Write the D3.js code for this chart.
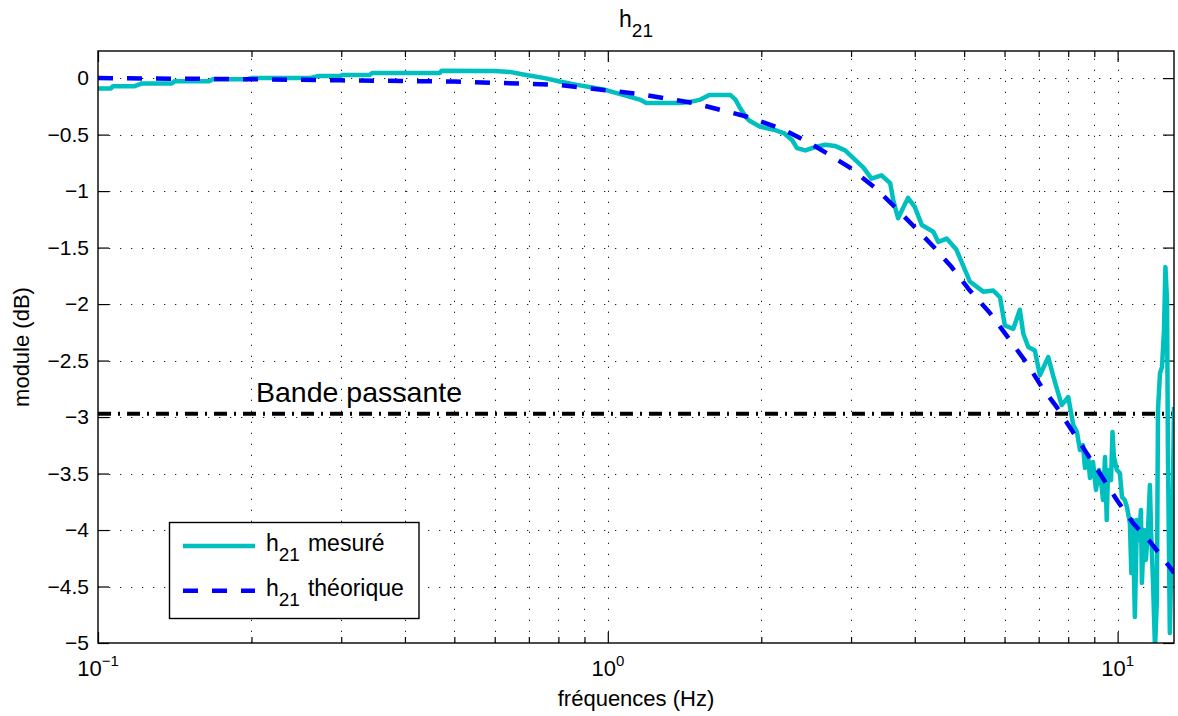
<!DOCTYPE html>
<html><head><meta charset="utf-8">
<script src="https://cdn.jsdelivr.net/npm/d3@7"></script>
<style>
html,body{margin:0;padding:0;background:#fff;}
svg{display:block;font-family:"Liberation Sans",Arial,Helvetica,sans-serif;}
</style></head>
<body>
<svg id="chart" width="1178" height="716"></svg>
<script>
// ---- data ----
const measFreq = [0.100,0.106,0.107,0.118,0.122,0.1395,0.1414,0.1655,0.168,0.1957,0.200,0.260,0.270,0.298,0.302,0.341,0.345,0.468,0.472,0.600,0.642,0.687,0.752,0.805,0.870,0.950,1.000,1.155,1.190,1.330,1.390,1.450,1.520,1.580,1.740,1.780,1.820,1.870,1.900,1.990,2.130,2.220,2.300,2.350,2.440,2.550,2.670,2.790,2.920,3.170,3.290,3.440,3.580,3.630,3.710,3.880,4.000,4.130,4.350,4.450,4.620,4.830,5.020,5.130,5.450,5.700,5.880,6.010,6.240,6.430,6.530,6.680,6.880,7.040,7.310,7.480,7.767,8.002,8.185,8.323,8.437,8.552,8.630,8.748,8.827,8.948,9.070,9.194,9.278,9.362,9.447,9.520,9.576,9.706,9.772,9.834,9.968,10.10,10.20,10.33,10.43,10.57,10.64,10.71,10.81,10.91,11.01,11.11,11.16,11.26,11.36,11.47,11.57,11.63,11.73,11.84,11.94,12.00,12.11,12.22,12.33,12.41,12.50,12.55,12.66,12.75,12.83,12.90];
const measDb = [-0.091,-0.091,-0.071,-0.071,-0.047,-0.047,-0.027,-0.027,-0.009,-0.009,0.0,0.0,0.018,0.018,0.028,0.028,0.045,0.045,0.065,0.062,0.055,0.03,0.0,-0.03,-0.06,-0.09,-0.11,-0.19,-0.22,-0.22,-0.22,-0.21,-0.19,-0.15,-0.15,-0.19,-0.27,-0.35,-0.38,-0.43,-0.46,-0.49,-0.55,-0.62,-0.64,-0.61,-0.59,-0.60,-0.64,-0.79,-0.89,-0.86,-0.93,-1.08,-1.24,-1.06,-1.14,-1.30,-1.36,-1.45,-1.42,-1.52,-1.70,-1.80,-1.89,-1.88,-1.94,-2.19,-2.22,-2.05,-2.26,-2.38,-2.41,-2.63,-2.47,-2.64,-2.894,-2.823,-3.071,-3.133,-3.292,-3.248,-3.451,-3.336,-3.540,-3.398,-3.646,-3.469,-3.558,-3.735,-3.354,-3.912,-3.469,-3.558,-3.133,-3.354,-3.469,-3.496,-3.708,-3.735,-3.796,-3.938,-4.381,-3.912,-4.770,-3.912,-4.088,-3.823,-4.469,-4.000,-4.265,-4.000,-3.602,-4.000,-4.442,-5.05,-4.619,-2.938,-2.611,-2.558,-2.230,-1.673,-1.965,-3.292,-4.912,-4.265,-3.735,-2.912];
const theoFreq = [0.10,0.20,0.30,0.50,0.80,0.92,1.00,1.15,1.30,1.47,1.66,1.87,2.20,2.50,2.70,2.98,3.34,3.60,4.00,4.35,4.72,5.13,5.62,6.15,6.63,7.09,7.59,9.23,9.95,10.73,11.66,12.57,12.90];
const theoDb = [0.0,-0.01,-0.02,-0.03,-0.06,-0.09,-0.11,-0.14,-0.18,-0.22,-0.28,-0.34,-0.45,-0.58,-0.67,-0.79,-0.97,-1.11,-1.32,-1.49,-1.67,-1.88,-2.08,-2.32,-2.52,-2.73,-2.91,-3.50,-3.73,-3.94,-4.12,-4.31,-4.38];
const bandLevel = -2.97;
const yTicks = [0,-0.5,-1,-1.5,-2,-2.5,-3,-3.5,-4,-4.5,-5];
const xMajor = [0.1,1,10];
const xMajorExp = ["\u22121","0","1"];
const xMinor = [0.2,0.3,0.4,0.5,0.6,0.7,0.8,0.9,2,3,4,5,6,7,8,9];
const xDomain = [0.1,12.9];
const yDomain = [-5,0.24];

// ---- layout ----
const L=98, R=1174, T=51, B=643;
const svg = d3.select("#chart");
const x = d3.scaleLog().domain(xDomain).range([L,R]);
const y = d3.scaleLinear().domain(yDomain).range([B,T]);

svg.append("defs").append("clipPath").attr("id","clip")
  .append("rect").attr("x",L).attr("y",T).attr("width",R-L).attr("height",B-T);

// grid
const grid = svg.append("g").attr("stroke","#222").attr("stroke-width",1).attr("stroke-dasharray","1.3,9.7");
grid.selectAll(".gx").data(xMajor.concat(xMinor).filter(v=>v>xDomain[0]&&v<xDomain[1])).enter().append("line")
  .attr("x1",d=>Math.round(x(d))+0.5).attr("x2",d=>Math.round(x(d))+0.5).attr("y1",B).attr("y2",T);
grid.selectAll(".gy").data(yTicks.filter(v=>v>yDomain[0])).enter().append("line")
  .attr("y1",d=>Math.round(y(d))+0.5).attr("y2",d=>Math.round(y(d))+0.5).attr("x1",L).attr("x2",R);

// axes via d3
const fmt = d=> (d<0?"\u2212":"")+Math.abs(d);
const yAxisL = d3.axisLeft(y).tickValues(yTicks).tickSize(-11).tickPadding(9).tickFormat(fmt);
const yAxisR = d3.axisRight(y).tickValues(yTicks).tickSize(-11).tickFormat("");
const xAxisB = d3.axisBottom(x).tickValues(xMajor).tickSize(-11).tickFormat("");
const xAxisT = d3.axisTop(x).tickValues(xMajor).tickSize(-11).tickFormat("");
const xMinB = d3.axisBottom(x).tickValues(xMinor).tickSize(-6).tickFormat("");
const xMinT = d3.axisTop(x).tickValues(xMinor).tickSize(-6).tickFormat("");

function styleAxis(g){ g.select(".domain").remove(); g.selectAll("line").attr("stroke","#000").attr("stroke-width",1.2); g.selectAll("text").attr("font-size",21).attr("fill","#000").attr("font-family","Liberation Sans, Arial, sans-serif"); }
svg.append("g").attr("transform",`translate(${L},0)`).call(yAxisL).call(styleAxis);
svg.append("g").attr("transform",`translate(${R},0)`).call(yAxisR).call(styleAxis);
svg.append("g").attr("transform",`translate(0,${B})`).call(xAxisB).call(styleAxis);
svg.append("g").attr("transform",`translate(0,${T})`).call(xAxisT).call(styleAxis);
svg.append("g").attr("transform",`translate(0,${B})`).call(xMinB).call(styleAxis);
svg.append("g").attr("transform",`translate(0,${T})`).call(xMinT).call(styleAxis);

// x tick labels with exponents
const xl = svg.append("g").attr("font-size",22).attr("fill","#000");
xMajor.forEach((v,i)=>{
  const t = xl.append("text").attr("x",x(v)).attr("y",676).attr("text-anchor","middle");
  t.append("tspan").text("10");
  t.append("tspan").attr("font-size",15).attr("dy",-10).text(xMajorExp[i]);
});

// plot lines
const plot = svg.append("g").attr("clip-path","url(#clip)");
plot.append("line").attr("x1",L).attr("x2",R).attr("y1",y(bandLevel)).attr("y2",y(bandLevel))
  .attr("stroke","#000").attr("stroke-width",4).attr("stroke-dasharray","13,7,2,7");
const line = d3.line().x(d=>x(d[0])).y(d=>y(d[1]));
plot.append("path").datum(d3.zip(measFreq,measDb)).attr("d",line)
  .attr("fill","none").attr("stroke","#00BFBF").attr("stroke-width",4.5).attr("stroke-linejoin","round");
plot.append("path").datum(d3.zip(theoFreq,theoDb)).attr("d",line)
  .attr("fill","none").attr("stroke","#0000FF").attr("stroke-width",4.5).attr("stroke-dasharray","15,14");

// frame
svg.append("rect").attr("x",L).attr("y",T).attr("width",R-L).attr("height",B-T)
  .attr("fill","none").attr("stroke","#000").attr("stroke-width",1.4);

// annotation
svg.append("text").attr("x",256).attr("y",402).attr("font-size",28.5).attr("fill","#000").text("Bande passante");

// title
const title = svg.append("text").attr("x",(L+R)/2).attr("y",27).attr("text-anchor","middle").attr("font-size",23);
title.append("tspan").text("h");
title.append("tspan").attr("font-size",19).attr("dy",10).text("21");

// axis labels
svg.append("text").attr("x",(L+R)/2).attr("y",706).attr("text-anchor","middle").attr("font-size",22).text("fréquences (Hz)");
svg.append("text").attr("transform",`translate(29,${(T+B)/2}) rotate(-90)`).attr("text-anchor","middle").attr("font-size",22).text("module (dB)");

// legend
const lg = svg.append("g");
lg.append("rect").attr("x",169.5).attr("y",522.5).attr("width",249.5).attr("height",96)
  .attr("fill","#fff").attr("stroke","#000").attr("stroke-width",1.4);
const legItems = [{name:"mesuré",color:"#00BFBF",dash:null},{name:"théorique",color:"#0000FF",dash:"15,14"}];
legItems.forEach((it,i)=>{
  const yy = 546 + i*44.7;
  lg.append("line").attr("x1",183).attr("x2",255).attr("y1",yy).attr("y2",yy)
    .attr("stroke",it.color).attr("stroke-width",4.5).attr("stroke-dasharray",it.dash);
  const t = lg.append("text").attr("x",266).attr("y",yy+5).attr("font-size",23);
  t.append("tspan").text("h");
  t.append("tspan").attr("font-size",19).attr("dy",10).text("21");
  t.append("tspan").attr("dy",-10).attr("dx",8).text(it.name);
});
</script>
</body></html>
